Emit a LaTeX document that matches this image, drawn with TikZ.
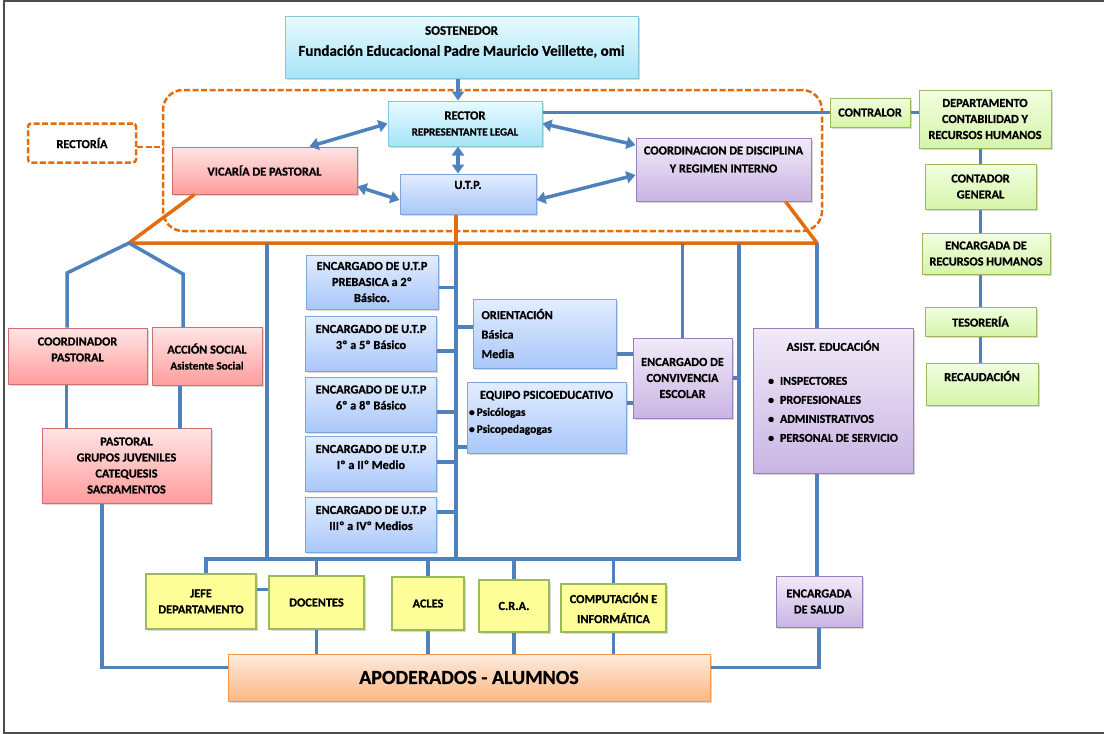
\documentclass[tikz,border=0pt]{standalone}
\usepackage{fontspec}
\setmainfont{Carlito}[BoldFeatures={FakeBold=0.6}]
\usetikzlibrary{arrows.meta,shadows}

\definecolor{lnblue}{HTML}{4F81BD}
\definecolor{lnorange}{HTML}{E46C0A}
\definecolor{cyantop}{HTML}{E8FAFF}\definecolor{cyanbot}{HTML}{A6E4F7}\definecolor{cyanedge}{HTML}{86C5DA}
\definecolor{bluetop}{HTML}{E3EDFF}\definecolor{bluebot}{HTML}{A9C7F9}\definecolor{blueedge}{HTML}{7EA6DA}
\definecolor{pinktop}{HTML}{FFE5E5}\definecolor{pinkbot}{HTML}{FF9C9C}\definecolor{pinkedge}{HTML}{D0706E}
\definecolor{lilactop}{HTML}{F1EAF8}\definecolor{lilacbot}{HTML}{C9B5E3}\definecolor{lilacedge}{HTML}{9A7FBD}
\definecolor{greentop}{HTML}{F1FFDF}\definecolor{greenbot}{HTML}{D6F4AA}\definecolor{greenedge}{HTML}{9BBB59}
\definecolor{yellowfill}{HTML}{FFFF99}
\definecolor{peachtop}{HTML}{FDEBDD}\definecolor{peachbot}{HTML}{FBB784}\definecolor{peachedge}{HTML}{F79646}

\tikzset{
  box/.style={draw, line width=1pt, inner sep=1pt, align=center, text=black, font=\bfseries\fontsize{12.3}{16}\selectfont},
  dropped/.style={drop shadow={shadow xshift=1.5pt,shadow yshift=-1.5pt,opacity=.3}},
  wh/.style 2 args={minimum width=#1, minimum height=#2},
  cyanbox/.style={box, dropped, draw=cyanedge, top color=cyantop, bottom color=cyanbot},
  bluebox/.style={box, dropped, draw=blueedge, top color=bluetop, bottom color=bluebot},
  pinkbox/.style={box, dropped, draw=pinkedge, top color=pinktop, bottom color=pinkbot},
  lilacbox/.style={box, dropped, draw=lilacedge, top color=lilactop, bottom color=lilacbot},
  greenbox/.style={box, dropped, draw=greenedge, top color=greentop, bottom color=greenbot},
  yellowbox/.style={box, dropped, draw=greenedge, line width=2.5pt, fill=yellowfill},
  peachbox/.style={box, dropped, draw=peachedge, top color=peachtop, bottom color=peachbot},
  lbl/.style={align=center, inner sep=0pt, font=\bfseries\fontsize{12.3}{16}\selectfont},
  link/.style={lnblue, line width=3.5pt},
  rim/.style={lnorange, line width=3.5pt},
  dashrim/.style={lnorange, line width=2.5pt, dash pattern=on 6pt off 2.5pt},
  dbl/.style={link, {Triangle[length=9pt,width=12pt]}-{Triangle[length=9pt,width=12pt]}}
}

\begin{document}
\begin{tikzpicture}[x=1pt,y=-1pt]
\useasboundingbox (0,0) rectangle (1104,734);
\draw[black!70, line width=1.5pt] (1104,1) -- (4,1) -- (4,733) -- (1104,733);

\node[draw, dashrim, rounded corners=20pt, wh={659}{141}] (rectgrp) at (492.5,160.5) {};
\node[box, dashrim, text=black, fill=white, rounded corners=3pt, wh={108}{39}] (rectoria) at (82,143) {RECTORÍA};
\draw[dashrim] ([yshift=-4pt]rectoria.east) -- ++(27,0);

\node[cyanbox, wh={353}{62}] (sost) at (461.5,47) {};
\node[lbl] (sost-t) at ([yshift=5pt]sost.center) {{\fontsize{13}{16}\selectfont SOSTENEDOR}\\[5pt]{\fontsize{15}{18}\selectfont Fundación Educacional Padre Mauricio Veillette, omi}};
\node[cyanbox, wh={154}{45}] (rector) at (465,123.5) {{\fontsize{12.5}{16}\selectfont RECTOR}\\{\fontsize{11}{12}\selectfont REPRESENTANTE LEGAL}};
\node[pinkbox, wh={185}{47}] (vicaria) at (264.5,170.5) {VICARÍA DE PASTORAL};
\node[bluebox, wh={136}{40}] (utp) at (468,194) {};
\node[lbl] (utp-t) at ([yshift=9pt]utp.center) {U.T.P.};
\node[lilacbox, wh={175}{63}] (coord) at (723.5,169.5) {};
\node[lbl] (coord-t) at ([yshift=10pt]coord.center) {COORDINACION DE DISCIPLINA\\[2pt]Y REGIMEN INTERNO};

\node[greenbox, wh={80}{29}] (contralor) at (870,112.5) {CONTRALOR};
\node[greenbox, wh={132}{58}] (dept) at (985,119) {DEPARTAMENTO\\CONTABILIDAD Y\\RECURSOS HUMANOS};
\node[greenbox, wh={111}{45}] (contador) at (980.5,186.5) {CONTADOR\\GENERAL};
\node[greenbox, wh={128}{41}] (rrhh) at (986,253.5) {ENCARGADA DE\\RECURSOS HUMANOS};
\node[greenbox, wh={111}{29}] (tesoreria) at (980.5,321.5) {TESORERÍA};
\node[greenbox, wh={112}{42}] (recaudacion) at (982,384) {};
\node[lbl] (recaudacion-t) at ([yshift=8pt]recaudacion.center) {RECAUDACIÓN};

\node[pinkbox, wh={139}{56}] (cpast) at (77.5,356) {};
\node[lbl] (cpast-t) at ([yshift=6.5pt]cpast.center) {COORDINADOR\\PASTORAL};
\node[pinkbox, wh={110}{58}] (accion) at (207,356.5) {ACCIÓN SOCIAL\\{\fontsize{11.3}{14}\selectfont Asistente Social}};
\node[pinkbox, wh={169}{75}] (pastoral) at (126.5,465.5) {PASTORAL\\GRUPOS JUVENILES\\CATEQUESIS\\SACRAMENTOS};

\node[bluebox, wh={132}{54}] (enc1) at (372,282) {ENCARGADO DE U.T.P\\PREBASICA a 2º\\Básico.};
\foreach \n/\y/\lvl in {2/344/3º a 5º Básico,3/404.5/6º a 8º Básico,4/464/Iº a IIº Medio,5/525/IIIº a IVº Medios}{
  \node[bluebox, wh={131}{55}] (enc\n) at (371,\y) {};
  \node[lbl] (enc\n-t) at ([yshift=7pt]enc\n.center) {ENCARGADO DE U.T.P\\\lvl};
}
\node[bluebox, wh={143}{69}, text width=126, align=left, font=\bfseries\fontsize{12.3}{19.5}\selectfont] (orient) at (544.5,333.5) {ORIENTACIÓN\\Básica\\Media};
\node[bluebox, wh={159}{71}] (equipo) at (546.5,417.5) {};
\node[lbl] (equipo-t) at ([yshift=5pt]equipo.center) {\fontsize{11.5}{17}\selectfont\begin{tabular}{@{}p{155pt}@{}}\multicolumn{1}{@{}c@{}}{\fontsize{12.3}{17}\selectfont EQUIPO PSICOEDUCATIVO}\\ \textbullet\,Psicólogas\\ \textbullet\,Psicopedagogas\end{tabular}};
\node[lilacbox, wh={99}{80}] (conviv) at (682.5,378) {ENCARGADO DE\\CONVIVENCIA\\ESCOLAR};
\node[lilacbox, wh={160}{145}] (asist) at (833,400.5) {};
\node[lbl] (asist-t) at ([yshift=8pt]asist.center) {\fontsize{12}{19}\selectfont\begin{tabular}{@{}l@{\hspace{6pt}}l@{}}\multicolumn{2}{@{}c@{}}{ASIST. EDUCACIÓN}\\[15pt] \textbullet & INSPECTORES\\ \textbullet & PROFESIONALES\\ \textbullet & ADMINISTRATIVOS\\ \textbullet & PERSONAL DE SERVICIO\end{tabular}};
\node[lilacbox, wh={86}{51}] (salud) at (819,601.5) {ENCARGADA\\DE SALUD};

\node[yellowbox, wh={110}{55}] (jefe) at (201,601.5) {JEFE\\DEPARTAMENTO};
\node[yellowbox, wh={95}{53}] (docentes) at (316.5,602.5) {DOCENTES};
\node[yellowbox, wh={72}{53}] (acles) at (428,603.5) {ACLES};
\node[yellowbox, wh={70}{52}] (cra) at (514,606) {C.R.A.};
\node[yellowbox, wh={105}{48}] (comp) at (613.5,608) {COMPUTACIÓN E\\[4pt]INFORMÁTICA};
\node[peachbox, wh={482}{47}, font=\bfseries\fontsize{20}{22}\selectfont] (apod) at (469,677.5) {APODERADOS - ALUMNOS};

\coordinate (apexL) at (129,243); \coordinate (apexR) at (817,243); \coordinate (trunk) at (456,243);
\coordinate (o1) at (267,243); \coordinate (o2) at (682.5,243); \coordinate (o3) at (739,243);
\coordinate (busW) at (206,559); \coordinate (busE) at (739,559);

\draw[rim, line join=round] ([xshift=23pt]vicaria.south west) -- (apexL) -- (apexR) -- ([xshift=-26pt]coord.south east);
\draw[rim] (trunk |- utp.south) -- (trunk);

\draw[link] (apexL) -- ++(-62,30) -- ([xshift=-10.5pt]cpast.north);
\draw[link] (apexL) -- ++(54,31) -- ([xshift=-24pt]accion.north);
\draw[link] ([xshift=-11pt]cpast.south) -- ++(0,44);
\draw[link] ([xshift=-27pt]accion.south) -- ++(0,42.5);
\draw[link] ([xshift=-24.5pt]pastoral.south) |- ([yshift=10pt]apod.west);
\draw[link] (o1) -- (o1 |- busW);
\draw[link] (trunk) -- (trunk |- busW);
\draw[link] (o3) -- (busE) -- (busW) -- (busW |- jefe.north);
\foreach \b in {docentes,acles,cra,comp}{
  \draw[link] (\b.north |- busW) -- (\b.north);
  \draw[link] (\b.south) -- (\b.south |- apod.north);
}
\draw[link] ([yshift=12pt]jefe.east) -- ([yshift=13pt]docentes.west);
\foreach \n/\dy in {1/-5.5,2/-7,3/-7.5,4/2,5/13}
  \draw[link] ([yshift=\dy pt]enc\n.east) -| (trunk);
\draw[link] ([yshift=6.5pt]orient.west) -| (trunk);
\draw[link] ([yshift=-29.5pt]equipo.west) -| (trunk);
\draw[link] ([yshift=-20.5pt]orient.east) -- ([yshift=24pt]conviv.west);
\draw[link] ([yshift=14.5pt]equipo.east) -- ([yshift=-25pt]conviv.west);
\draw[link] (o2) -- (conviv.north);
\draw[link] (conviv.east) -- (conviv.east -| o3);
\draw[link] (apexR) -- (apexR |- asist.north);
\draw[link] (apexR |- asist.south) -- (apexR |- salud.north);
\draw[link] (salud.south) |- ([yshift=10pt]apod.east);
\draw[link] (rector.east |- contralor.west) -- (contralor.west);
\draw[link] (contralor.east) -- (contralor.east -| dept.west);
\foreach \a/\b in {dept/contador,contador/rrhh,rrhh/tesoreria,tesoreria/recaudacion}
  \draw[link] (contador.north |- \a.south) -- (contador.north |- \b.north);

\draw[link, -{Triangle[length=9pt,width=12pt]}] ([xshift=-3.5pt]sost.south) -- ([xshift=-7pt]rector.north);
\draw[dbl] (rector.west) -- ([xshift=45pt]vicaria.north);
\draw[dbl] ([xshift=-7pt]rector.south) -- ([xshift=-10pt]utp.north);
\draw[dbl] (rector.east) -- ([yshift=24.5pt]coord.west);
\draw[dbl] ([yshift=-16pt]vicaria.east) -- ([yshift=-6pt]utp.west);
\draw[dbl] ([yshift=-6pt]utp.east) -- ([yshift=-5.5pt]coord.west);
\end{tikzpicture}
\end{document}
